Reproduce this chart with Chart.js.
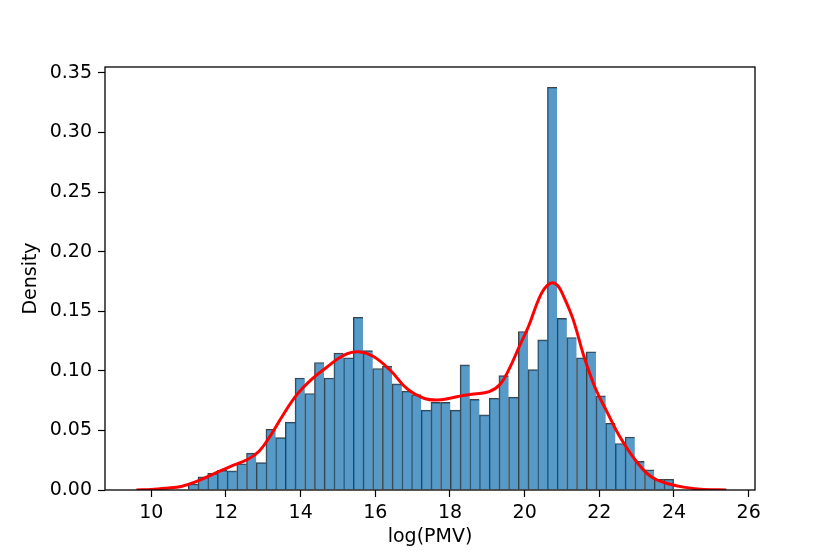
<!DOCTYPE html>
<html>
<head>
<meta charset="utf-8">
<script src="https://cdn.jsdelivr.net/npm/chart.js@4.4.0/dist/chart.umd.min.js"></script>
<style>
  body { margin: 0; background: #fff; }
  #wrap { width: 840px; height: 560px; }
</style>
</head>
<body>
<div id="wrap"><canvas id="myChart" width="840" height="560"></canvas></div>
<script>
// histogram: 50 bins, first edge and width
const binStart = 10.99;
const binWidth = 0.26;
const densities = [
  0.005, 0.011, 0.014, 0.0165, 0.016, 0.022, 0.031, 0.023, 0.051, 0.044,
  0.057, 0.094, 0.081, 0.107, 0.094, 0.115, 0.111, 0.145, 0.117, 0.102,
  0.104, 0.089, 0.083, 0.080, 0.067, 0.0735, 0.0735, 0.067, 0.105, 0.076,
  0.063, 0.077, 0.096, 0.078, 0.133, 0.101, 0.126, 0.338, 0.144, 0.128,
  0.111, 0.116, 0.079, 0.056, 0.039, 0.0445, 0.024, 0.017, 0.009, 0.009
];

// kde curve (red)
const kdeX = [9.6, 10.0, 10.4, 10.8, 11.2, 11.7, 12.1, 12.6, 12.9, 13.2, 13.55, 13.9, 14.3, 14.7,
  15.15, 15.55, 15.95, 16.4, 16.85, 17.3, 17.65, 18.0, 18.3, 18.65, 19.05, 19.35, 19.6, 19.85,
  20.1, 20.3, 20.45, 20.6, 20.75, 20.9, 21.05, 21.3, 21.6, 21.9, 22.2, 22.55, 23.0, 23.4, 23.9, 24.3, 24.8, 25.4];
const kdeY = [0, 0.0004, 0.0015, 0.003, 0.007, 0.014, 0.0195, 0.026, 0.033, 0.046, 0.064, 0.08, 0.093, 0.103,
  0.113, 0.116, 0.112, 0.1005, 0.085, 0.077, 0.0755, 0.077, 0.079, 0.0805, 0.0825, 0.089, 0.1025, 0.12,
  0.137, 0.154, 0.165, 0.1715, 0.174, 0.171, 0.162, 0.143, 0.111, 0.085, 0.066, 0.0447, 0.0237, 0.011, 0.0048, 0.0022, 0.0005, 0];

const xTicks = [10, 12, 14, 16, 18, 20, 22, 24, 26];
const yTicks = [0, 0.05, 0.10, 0.15, 0.20, 0.25, 0.30, 0.35];

Chart.defaults.font.family = "'DejaVu Sans', sans-serif";
Chart.defaults.font.size = 19;
Chart.defaults.color = "#000";

const histData = densities.map((d, i) => ({ x: binStart + (i + 0.5) * binWidth, y: d }));
const kdeData = kdeX.map((x, i) => ({ x: x, y: kdeY[i] }));

// box around the plot area, like the matplotlib spines
const frame = {
  id: "frame",
  afterDatasetsDraw(chart) {
    const a = chart.chartArea;
    const c = chart.ctx;
    c.save();
    c.strokeStyle = "#000";
    c.lineWidth = 1.3;
    c.strokeRect(a.left, a.top, a.right - a.left, a.bottom - a.top);
    c.restore();
  }
};

const config = {
  type: "bar",
  data: {
    datasets: [
      {
        type: "line",
        label: "kde",
        data: kdeData,
        borderColor: "#ff0000",
        borderWidth: 3,
        pointRadius: 0,
        fill: false,
        tension: 0.4,
        order: 0
      },
      {
        label: "hist",
        data: histData,
        backgroundColor: "rgba(31,119,180,0.75)",
        borderColor: "rgba(0,0,0,0.75)",
        borderWidth: (ctx) => ctx.dataIndex === densities.length - 1
          ? { top: 1, left: 1, right: 1, bottom: 0 }
          : { top: 1, left: 1, right: 0, bottom: 0 },
        borderSkipped: false,
        barPercentage: 1,
        categoryPercentage: 1,
        order: 1
      }
    ]
  },
  options: {
    responsive: false,
    animation: false,
    layout: { padding: { left: 20, right: 85, top: 67, bottom: 12 } },
    plugins: { legend: { display: false }, tooltip: { enabled: false } },
    scales: {
      x: {
        type: "linear",
        offset: false,
        min: 8.76,
        max: 26.17,
        afterBuildTicks: (s) => { s.ticks = xTicks.map(v => ({ value: v })); },
        afterFit: (s) => { s.height = 58; },
        ticks: { padding: 5, callback: (v) => String(v) },
        grid: { drawOnChartArea: false, offset: false, tickLength: 7, tickColor: "#000", tickWidth: 1.2 },
        border: { display: false },
        title: { display: true, text: "log(PMV)", padding: 0, font: { size: 19 } }
      },
      y: {
        min: 0,
        max: 0.355,
        afterBuildTicks: (s) => { s.ticks = yTicks.map(v => ({ value: v })); },
        afterFit: (s) => { s.width = 85; },
        ticks: { padding: 6, callback: (v) => v.toFixed(2) },
        grid: { drawOnChartArea: false, tickLength: 7, tickColor: "#000", tickWidth: 1.2 },
        border: { display: false },
        title: { display: true, text: "Density", padding: 0, font: { size: 19 } }
      }
    }
  },
  plugins: [frame]
};

const context = document.getElementById("myChart").getContext("2d");
const chart = new Chart(context, config);
</script>
</body>
</html>
